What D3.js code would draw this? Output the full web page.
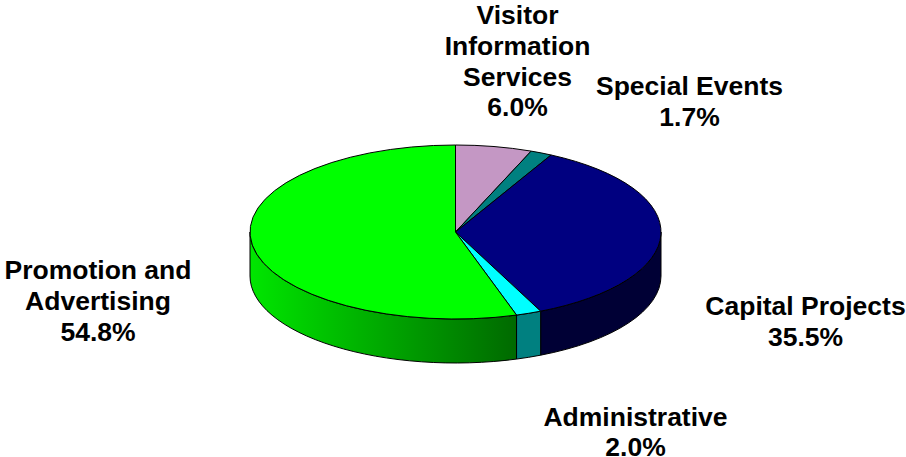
<!DOCTYPE html>
<html>
<head>
<meta charset="utf-8">
<script src="https://d3js.org/d3.v7.min.js"></script>
<style>
    html, body { margin: 0; padding: 0; background: #fff; }
    svg { display: block; }
    text { font-family: "Liberation Sans", Arial, sans-serif; font-weight: bold; font-size: 26.5px; fill: #000; }
</style>
</head>
<body>
<div id="chart"></div>
<script>
const categories = ["Visitor Information Services", "Special Events", "Capital Projects", "Administrative", "Promotion and Advertising"];
const shares = [6.0, 1.7, 35.5, 2.0, 54.8];
const topColors = ["#c497c4", "#008080", "#000080", "#00ffff", "#00ff00"];
const sideColors = ["#624b62", "#004040", "#000035", "#008080", "url(#green-side)"];
const labelLines = [
    ["Visitor", "Information", "Services", "6.0%"],
    ["Special Events", "1.7%"],
    ["Capital Projects", "35.5%"],
    ["Administrative", "2.0%"],
    ["Promotion and", "Advertising", "54.8%"]
];
const labelAnchors = [[517.5, 24], [689.5, 95], [805.5, 315], [635.5, 425.5], [98, 279]];

const width = 906, height = 457;
const cx = 455.5, cy = 232, rx = 205.5, ry = 87, depth = 44;
const lineHeight = 30.8;

const svg = d3.select("#chart").append("svg").attr("width", width).attr("height", height);

const gradient = svg.append("defs").append("linearGradient")
    .attr("id", "green-side").attr("gradientUnits", "userSpaceOnUse")
    .attr("x1", cx - rx).attr("x2", cx + 60).attr("y1", 0).attr("y2", 0);
gradient.append("stop").attr("offset", 0).attr("stop-color", "#00e600");
gradient.append("stop").attr("offset", 1).attr("stop-color", "#006a00");

const pie = d3.pie().sort(null).value(d => d)(shares);

// angle is clockwise from the top, same as d3.pie
function point(angle, extra) {
    return [cx + rx * Math.sin(angle), cy - ry * Math.cos(angle) + (extra || 0)];
}

// only the part of a slice between 90 and 270 degrees has a visible wall
function sidePath(d) {
    const a0 = Math.max(d.startAngle, Math.PI / 2);
    const a1 = Math.min(d.endAngle, Math.PI * 1.5);
    if (a1 <= a0) return null;
    const p0 = point(a0), p1 = point(a1), p2 = point(a1, depth), p3 = point(a0, depth);
    return "M" + p0 + "A" + rx + "," + ry + " 0 0 1 " + p1 + "L" + p2 +
        "A" + rx + "," + ry + " 0 0 0 " + p3 + "Z";
}

svg.append("g").selectAll("path")
    .data(pie.filter(d => sidePath(d)))
    .join("path")
    .attr("d", sidePath)
    .attr("fill", d => sideColors[d.index])
    .attr("stroke", "#000")
    .attr("stroke-width", 1);

const arc = d3.arc().innerRadius(0).outerRadius(rx);

svg.append("g")
    .attr("transform", "translate(" + cx + " " + cy + ") scale(1 " + (ry / rx) + ")")
    .selectAll("path")
    .data(pie)
    .join("path")
    .attr("d", arc)
    .attr("fill", d => topColors[d.index])
    .attr("stroke", "#000")
    .attr("stroke-width", 1)
    .attr("vector-effect", "non-scaling-stroke");

const labels = svg.append("g").selectAll("text")
    .data(labelLines)
    .join("text")
    .attr("text-anchor", "middle")
    .attr("aria-label", (d, i) => categories[i]);

labels.selectAll("tspan")
    .data((d, i) => d.map((line, n) => ({line: line, n: n, at: labelAnchors[i]})))
    .join("tspan")
    .attr("x", d => d.at[0])
    .attr("y", d => d.at[1] + d.n * lineHeight)
    .text(d => d.line);
</script>
</body>
</html>
